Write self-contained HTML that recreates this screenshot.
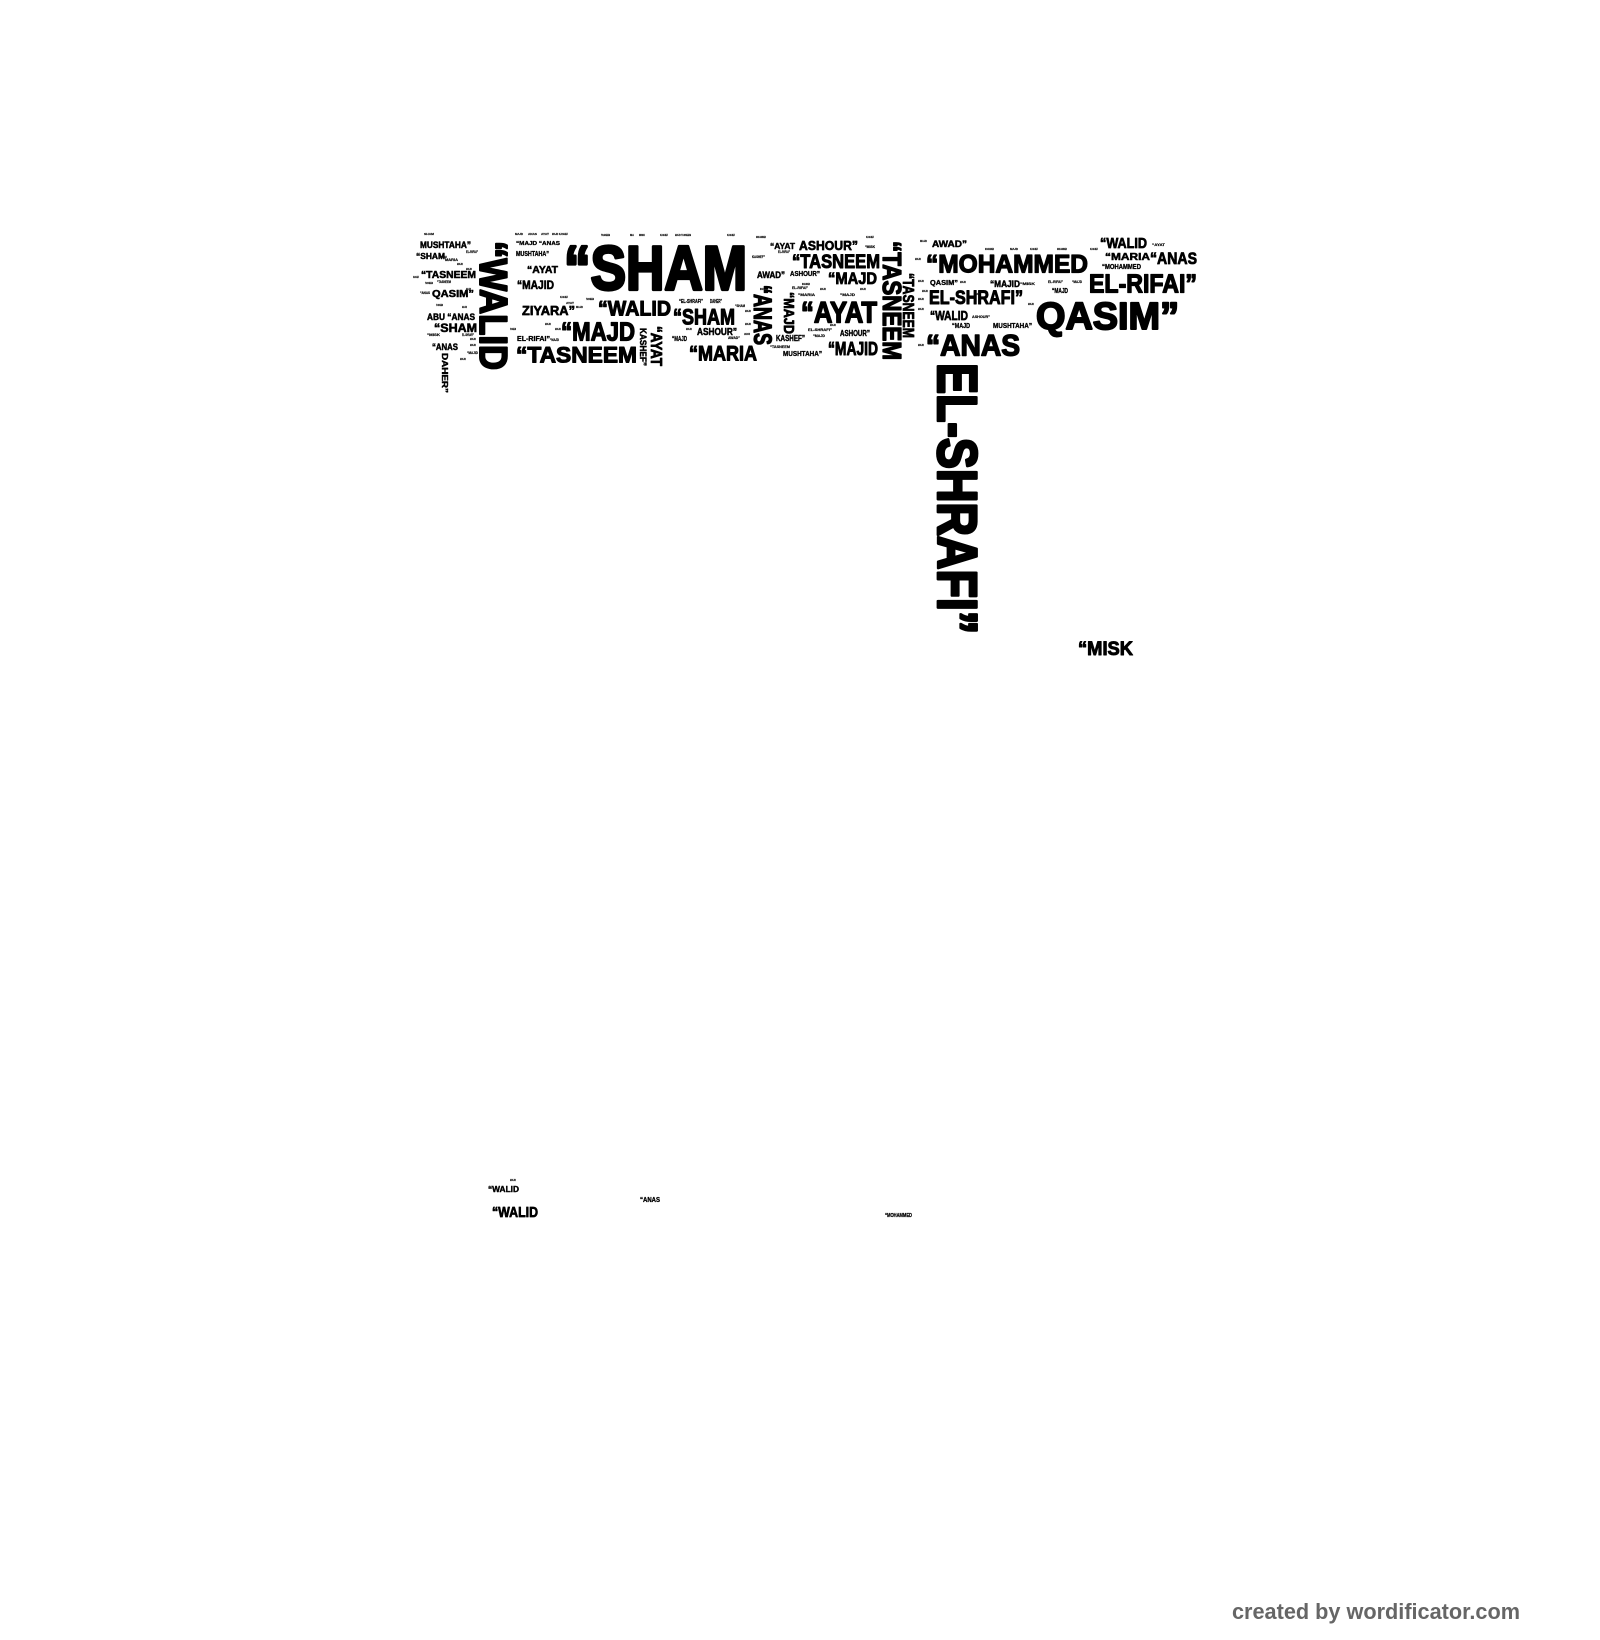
<!DOCTYPE html>
<html>
<head>
<meta charset="utf-8">
<style>
html,body{margin:0;padding:0;background:#fff;}
svg{display:block;}
text{font-family:"Liberation Sans",Arial,sans-serif;font-weight:bold;fill:#000;stroke:#000;stroke-width:0.05em;stroke-linejoin:round;}
text.nf{stroke:none;}
</style>
</head>
<body>
<svg xmlns="http://www.w3.org/2000/svg" width="1600" height="1640" viewBox="0 0 1600 1640">
<rect width="1600" height="1640" fill="#fff"/>
<g>
<!-- left block -->
<text x="420" y="248" font-size="9.2" textLength="51" lengthAdjust="spacingAndGlyphs">MUSHTAHA”</text>
<text x="416" y="259" font-size="8.2" textLength="29" lengthAdjust="spacingAndGlyphs">“SHAM</text>
<text x="445" y="261" font-size="4" textLength="13" lengthAdjust="spacingAndGlyphs">MARIA</text>
<text x="466" y="253" font-size="4" textLength="12" lengthAdjust="spacingAndGlyphs">EL-RIFAI”</text>
<text x="421" y="278" font-size="10.5" textLength="55" lengthAdjust="spacingAndGlyphs">“TASNEEM</text>
<text x="437" y="283" font-size="4" textLength="14" lengthAdjust="spacingAndGlyphs">“TASNEEM</text>
<text x="432" y="297" font-size="10.5" textLength="42" lengthAdjust="spacingAndGlyphs">QASIM”</text>
<text x="420" y="294" font-size="3.5" textLength="10" lengthAdjust="spacingAndGlyphs">“ANAS</text>
<text x="427" y="320" font-size="9.2" textLength="48" lengthAdjust="spacingAndGlyphs">ABU “ANAS</text>
<text x="434" y="332" font-size="11.8" textLength="43" lengthAdjust="spacingAndGlyphs">“SHAM</text>
<text x="427" y="336" font-size="3.5" textLength="13" lengthAdjust="spacingAndGlyphs">“MISK</text>
<text x="462" y="336" font-size="3.5" textLength="12" lengthAdjust="spacingAndGlyphs">EL-SHRAFI”</text>
<text x="432" y="350" font-size="9.2" textLength="26" lengthAdjust="spacingAndGlyphs">“ANAS</text>
<text x="467" y="354" font-size="3.5" textLength="11" lengthAdjust="spacingAndGlyphs">“MAJID</text>
<text transform="translate(442,353) rotate(90)" font-size="8.2" textLength="40" lengthAdjust="spacingAndGlyphs">DAHER”</text>
<text transform="translate(480,241) rotate(90)" font-size="39.3" textLength="129" lengthAdjust="spacingAndGlyphs">“WALID</text>

<text x="516" y="245" font-size="5.6" textLength="44" lengthAdjust="spacingAndGlyphs">“MAJD “ANAS</text>
<text x="516" y="256" font-size="7" textLength="33" lengthAdjust="spacingAndGlyphs">MUSHTAHA”</text>
<text x="527" y="273" font-size="10.5" textLength="31" lengthAdjust="spacingAndGlyphs">“AYAT</text>
<text x="517" y="289" font-size="11.8" textLength="37" lengthAdjust="spacingAndGlyphs">“MAJID</text>
<text x="522" y="315" font-size="13.1" textLength="53" lengthAdjust="spacingAndGlyphs">ZIYARA”</text>
<text x="561" y="340.5" font-size="26.2" textLength="74" lengthAdjust="spacingAndGlyphs">“MAJD</text>
<text x="517" y="341" font-size="7" textLength="33" lengthAdjust="spacingAndGlyphs">EL-RIFAI”</text>
<text x="550" y="341" font-size="4" textLength="9" lengthAdjust="spacingAndGlyphs">“MAJD</text>
<text x="516" y="362.5" font-size="22.2" textLength="121" lengthAdjust="spacingAndGlyphs">“TASNEEM</text>

<!-- SHAM block -->
<text x="564" y="289.5" font-size="62.6" textLength="183" lengthAdjust="spacingAndGlyphs">“SHAM</text>
<text x="598" y="315.5" font-size="20.9" textLength="73" lengthAdjust="spacingAndGlyphs">“WALID</text>
<text x="673" y="324.5" font-size="22.2" textLength="62" lengthAdjust="spacingAndGlyphs">“SHAM</text>
<text x="679" y="303" font-size="5.6" textLength="24" lengthAdjust="spacingAndGlyphs">“EL-SHRAFI”</text>
<text x="710" y="303" font-size="5" textLength="12" lengthAdjust="spacingAndGlyphs">DAHER”</text>
<text x="735" y="307" font-size="3.5" textLength="10" lengthAdjust="spacingAndGlyphs">“SHAM</text>
<text x="697" y="335" font-size="10.5" textLength="40" lengthAdjust="spacingAndGlyphs">ASHOUR”</text>
<text x="672" y="341" font-size="7" textLength="15" lengthAdjust="spacingAndGlyphs">“MAJD</text>
<text x="728" y="339" font-size="4" textLength="12" lengthAdjust="spacingAndGlyphs">AWAD”</text>
<text x="689" y="360.5" font-size="20.9" textLength="68" lengthAdjust="spacingAndGlyphs">“MARIA</text>
<text transform="translate(651,326) rotate(90)" font-size="15.7" textLength="40" lengthAdjust="spacingAndGlyphs">“AYAT</text>
<text transform="translate(640,328) rotate(90)" font-size="9.2" textLength="38" lengthAdjust="spacingAndGlyphs">KASHEF”</text>
<text transform="translate(754,285) rotate(90)" font-size="24.8" textLength="60" lengthAdjust="spacingAndGlyphs">“ANAS</text>
<text transform="translate(784,292) rotate(90)" font-size="14.4" textLength="42" lengthAdjust="spacingAndGlyphs">“MAJD</text>

<!-- middle block -->
<text x="770" y="249" font-size="8.2" textLength="25" lengthAdjust="spacingAndGlyphs">“AYAT</text>
<text x="799" y="250" font-size="13.1" textLength="59" lengthAdjust="spacingAndGlyphs">ASHOUR”</text>
<text x="865" y="248" font-size="4" textLength="10" lengthAdjust="spacingAndGlyphs">“MISK</text>
<text x="792" y="268" font-size="19.6" textLength="88" lengthAdjust="spacingAndGlyphs">“TASNEEM</text>
<text x="778" y="253" font-size="4" textLength="12" lengthAdjust="spacingAndGlyphs">EL-RIFAI”</text>
<text x="752" y="258" font-size="4" textLength="13" lengthAdjust="spacingAndGlyphs">KASHEF”</text>
<text x="757" y="278" font-size="9.2" textLength="28" lengthAdjust="spacingAndGlyphs">AWAD”</text>
<text x="790" y="276" font-size="7" textLength="30" lengthAdjust="spacingAndGlyphs">ASHOUR”</text>
<text x="828" y="284" font-size="16.8" textLength="49" lengthAdjust="spacingAndGlyphs">“MAJD</text>
<text x="792" y="289" font-size="4" textLength="16" lengthAdjust="spacingAndGlyphs">EL-RIFAI”</text>
<text x="798" y="296" font-size="4" textLength="17" lengthAdjust="spacingAndGlyphs">“MARIA</text>
<text x="840" y="296" font-size="4" textLength="15" lengthAdjust="spacingAndGlyphs">“MAJD</text>
<text x="801" y="322.5" font-size="29.9" textLength="76" lengthAdjust="spacingAndGlyphs">“AYAT</text>
<text x="808" y="331" font-size="4" textLength="24" lengthAdjust="spacingAndGlyphs">EL-SHRAFI”</text>
<text x="840" y="336" font-size="8.2" textLength="30" lengthAdjust="spacingAndGlyphs">ASHOUR”</text>
<text x="813" y="337" font-size="4" textLength="12" lengthAdjust="spacingAndGlyphs">“MAJD</text>
<text x="776" y="341" font-size="8.2" textLength="29" lengthAdjust="spacingAndGlyphs">KASHEF”</text>
<text x="770" y="348" font-size="4" textLength="20" lengthAdjust="spacingAndGlyphs">“TASNEEM</text>
<text x="783" y="356" font-size="7" textLength="39" lengthAdjust="spacingAndGlyphs">MUSHTAHA”</text>
<text x="828" y="355" font-size="18.2" textLength="50" lengthAdjust="spacingAndGlyphs">“MAJID</text>
<text transform="translate(883,241) rotate(90)" font-size="26.2" textLength="119" lengthAdjust="spacingAndGlyphs">“TASNEEM</text>
<text transform="translate(903,273) rotate(90)" font-size="15.7" textLength="65" lengthAdjust="spacingAndGlyphs">“TASNEEM</text>

<!-- right block -->
<text x="932" y="247" font-size="9.2" textLength="35" lengthAdjust="spacingAndGlyphs">AWAD”</text>
<text x="926" y="272.5" font-size="24.8" textLength="162" lengthAdjust="spacingAndGlyphs">“MOHAMMED</text>
<text x="1100" y="248" font-size="14.4" textLength="47" lengthAdjust="spacingAndGlyphs">“WALID</text>
<text x="1152" y="246" font-size="3.5" textLength="13" lengthAdjust="spacingAndGlyphs">“AYAT</text>
<text x="1105" y="260" font-size="10.5" textLength="45" lengthAdjust="spacingAndGlyphs">“MARIA</text>
<text x="1150" y="264" font-size="16.8" textLength="47" lengthAdjust="spacingAndGlyphs">“ANAS</text>
<text x="1102" y="269" font-size="7" textLength="39" lengthAdjust="spacingAndGlyphs">“MOHAMMED</text>
<text x="1089" y="292.5" font-size="26.2" textLength="108" lengthAdjust="spacingAndGlyphs">EL-RIFAI”</text>
<text x="1036" y="329" font-size="37.9" textLength="143" lengthAdjust="spacingAndGlyphs">QASIM”</text>
<text x="930" y="285" font-size="7" textLength="28" lengthAdjust="spacingAndGlyphs">QASIM”</text>
<text x="990" y="287" font-size="9.2" textLength="30" lengthAdjust="spacingAndGlyphs">“MAJID</text>
<text x="1020" y="285" font-size="3.5" textLength="15" lengthAdjust="spacingAndGlyphs">“MISK</text>
<text x="1048" y="283" font-size="3.5" textLength="15" lengthAdjust="spacingAndGlyphs">EL-RIFAI”</text>
<text x="1072" y="283" font-size="3.5" textLength="10" lengthAdjust="spacingAndGlyphs">“MAJD</text>
<text x="929" y="304" font-size="19.6" textLength="94" lengthAdjust="spacingAndGlyphs">EL-SHRAFI”</text>
<text x="1052" y="293" font-size="7" textLength="16" lengthAdjust="spacingAndGlyphs">“MAJD</text>
<text x="930" y="320" font-size="13.1" textLength="38" lengthAdjust="spacingAndGlyphs">“WALID</text>
<text x="972" y="318" font-size="3.5" textLength="18" lengthAdjust="spacingAndGlyphs">ASHOUR”</text>
<text x="952" y="328" font-size="7" textLength="18" lengthAdjust="spacingAndGlyphs">“MAJD</text>
<text x="993" y="328" font-size="7" textLength="39" lengthAdjust="spacingAndGlyphs">MUSHTAHA”</text>
<text x="926" y="355.5" font-size="29.9" textLength="94" lengthAdjust="spacingAndGlyphs">“ANAS</text>
<text transform="translate(938,363) rotate(90)" font-size="56.1" textLength="271" lengthAdjust="spacingAndGlyphs">EL-SHRAFI”</text>
<text x="1078" y="655" font-size="19.6" textLength="55" lengthAdjust="spacingAndGlyphs">“MISK</text>

<!-- tiny filler words -->
<g font-size="3">
<text x="424" y="235" textLength="10" lengthAdjust="spacingAndGlyphs">SHAM</text>
<text x="515" y="235" textLength="8" lengthAdjust="spacingAndGlyphs">MAJD</text>
<text x="528" y="235" textLength="9" lengthAdjust="spacingAndGlyphs">ANAS</text>
<text x="541" y="235" textLength="8" lengthAdjust="spacingAndGlyphs">AYAT</text>
<text x="552" y="235" textLength="16" lengthAdjust="spacingAndGlyphs">MAJD KASHEF</text>
<text x="601" y="236" textLength="9" lengthAdjust="spacingAndGlyphs">TASNEEM</text>
<text x="630" y="236" textLength="4" lengthAdjust="spacingAndGlyphs">MA</text>
<text x="639" y="236" textLength="6" lengthAdjust="spacingAndGlyphs">MISK</text>
<text x="660" y="236" textLength="8" lengthAdjust="spacingAndGlyphs">KASHEF</text>
<text x="675" y="236" textLength="16" lengthAdjust="spacingAndGlyphs">MAJD TASNEEM</text>
<text x="727" y="236" textLength="8" lengthAdjust="spacingAndGlyphs">KASHEF</text>
<text x="756" y="238" textLength="10" lengthAdjust="spacingAndGlyphs">MOHAMMED</text>
<text x="866" y="238" textLength="8" lengthAdjust="spacingAndGlyphs">KASHEF</text>
<text x="920" y="242" textLength="7" lengthAdjust="spacingAndGlyphs">MAJD</text>
<text x="985" y="250" textLength="9" lengthAdjust="spacingAndGlyphs">MOHAMMED</text>
<text x="1010" y="250" textLength="8" lengthAdjust="spacingAndGlyphs">MAJD</text>
<text x="1030" y="250" textLength="8" lengthAdjust="spacingAndGlyphs">KASHEF</text>
<text x="1057" y="250" textLength="10" lengthAdjust="spacingAndGlyphs">MOHAMMED</text>
<text x="1090" y="250" textLength="8" lengthAdjust="spacingAndGlyphs">KASHEF</text>
<text x="413" y="278" textLength="6" lengthAdjust="spacingAndGlyphs">KASHEF</text>
<text x="425" y="284" textLength="8" lengthAdjust="spacingAndGlyphs">TASNEEM</text>
<text x="440" y="258" textLength="7" lengthAdjust="spacingAndGlyphs">KASHEF</text>
<text x="457" y="265" textLength="6" lengthAdjust="spacingAndGlyphs">MAJD</text>
<text x="466" y="270" textLength="6" lengthAdjust="spacingAndGlyphs">MAJD</text>
<text x="466" y="290" textLength="5" lengthAdjust="spacingAndGlyphs">MAJD</text>
<text x="436" y="306" textLength="7" lengthAdjust="spacingAndGlyphs">TASNEEM</text>
<text x="462" y="308" textLength="5" lengthAdjust="spacingAndGlyphs">MAJD</text>
<text x="470" y="340" textLength="6" lengthAdjust="spacingAndGlyphs">MAJD</text>
<text x="470" y="346" textLength="6" lengthAdjust="spacingAndGlyphs">MAJD</text>
<text x="460" y="360" textLength="6" lengthAdjust="spacingAndGlyphs">MAJD</text>
<text x="560" y="298" textLength="8" lengthAdjust="spacingAndGlyphs">KASHEF</text>
<text x="566" y="304" textLength="8" lengthAdjust="spacingAndGlyphs">AYAT</text>
<text x="576" y="308" textLength="7" lengthAdjust="spacingAndGlyphs">MAJD</text>
<text x="586" y="300" textLength="8" lengthAdjust="spacingAndGlyphs">TASNEEM</text>
<text x="555" y="330" textLength="6" lengthAdjust="spacingAndGlyphs">MAJD</text>
<text x="510" y="330" textLength="6" lengthAdjust="spacingAndGlyphs">TASNEEM</text>
<text x="545" y="325" textLength="6" lengthAdjust="spacingAndGlyphs">MAJD</text>
<text x="686" y="330" textLength="6" lengthAdjust="spacingAndGlyphs">MAJD</text>
<text x="745" y="312" textLength="6" lengthAdjust="spacingAndGlyphs">MAJD</text>
<text x="745" y="325" textLength="6" lengthAdjust="spacingAndGlyphs">MAJD</text>
<text x="744" y="335" textLength="6" lengthAdjust="spacingAndGlyphs">ASHOUR</text>
<text x="760" y="290" textLength="8" lengthAdjust="spacingAndGlyphs">MOHAMMED</text>
<text x="802" y="285" textLength="8" lengthAdjust="spacingAndGlyphs">MOHAMMED</text>
<text x="820" y="290" textLength="6" lengthAdjust="spacingAndGlyphs">MAJD</text>
<text x="860" y="290" textLength="6" lengthAdjust="spacingAndGlyphs">MAJD</text>
<text x="830" y="326" textLength="6" lengthAdjust="spacingAndGlyphs">MAJD</text>
<text x="915" y="260" textLength="6" lengthAdjust="spacingAndGlyphs">MAJD</text>
<text x="918" y="282" textLength="6" lengthAdjust="spacingAndGlyphs">MAJD</text>
<text x="918" y="300" textLength="6" lengthAdjust="spacingAndGlyphs">MAJD</text>
<text x="918" y="310" textLength="6" lengthAdjust="spacingAndGlyphs">MAJD</text>
<text x="918" y="346" textLength="6" lengthAdjust="spacingAndGlyphs">MAJD</text>
<text x="922" y="292" textLength="6" lengthAdjust="spacingAndGlyphs">MAJD</text>
<text x="1028" y="305" textLength="6" lengthAdjust="spacingAndGlyphs">MAJD</text>
<text x="960" y="283" textLength="6" lengthAdjust="spacingAndGlyphs">MAJD</text>
<text x="975" y="295" textLength="6" lengthAdjust="spacingAndGlyphs">MAJD</text>
<text x="510" y="1181" textLength="6" lengthAdjust="spacingAndGlyphs">MAJD</text>
</g>
</g>

<text class="nf" x="1232" y="1619" font-size="22" textLength="288" lengthAdjust="spacingAndGlyphs" style="fill:#666">created by wordificator.com</text>
<text x="488" y="1192" font-size="8.2" textLength="31" lengthAdjust="spacingAndGlyphs">“WALID</text>
<text x="492" y="1217" font-size="14.4" textLength="46" lengthAdjust="spacingAndGlyphs">“WALID</text>
<text x="640" y="1202" font-size="7" textLength="20" lengthAdjust="spacingAndGlyphs">“ANAS</text>
<text x="885" y="1217" font-size="5.6" textLength="27" lengthAdjust="spacingAndGlyphs">“MOHAMMED</text>
</svg>
</body>
</html>
